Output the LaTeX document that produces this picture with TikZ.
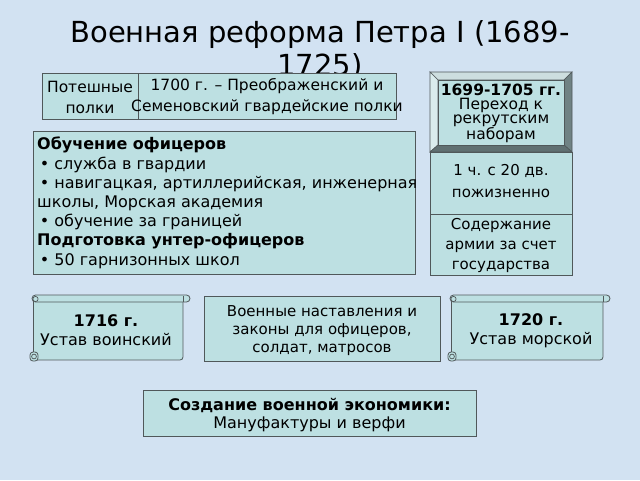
\documentclass[tikz,border=0pt]{standalone}
\usepackage{fontspec}
\setmainfont{DejaVu Sans}
\definecolor{bg}{RGB}{210,226,242}
\definecolor{boxfill}{RGB}{189,224,226}
\definecolor{boxline}{RGB}{80,88,90}
\definecolor{bevtop}{RGB}{205,222,223}
\definecolor{bevleft}{RGB}{218,236,237}
\definecolor{bevright}{RGB}{112,130,132}
\definecolor{bevbot}{RGB}{96,112,114}
\tikzset{
  panel/.style={draw=boxline, fill=boxfill, line width=0.8pt, inner sep=0pt, outer sep=0pt},
  txt/.style={align=center, inner sep=0pt, font=\fontsize{16}{19}\selectfont},
  scrl/.style={draw=boxline, fill=boxfill, line width=0.8pt},
}
\newcommand{\scrollshape}[4]{% x1 y1 x2 y2 (body), in pixel units
  % body
  \fill[boxfill] (#1,#2+4) rectangle (#3,#4);
  \draw[boxline, line width=0.8pt] (#1,#2+4) -- (#1,#4-4);
  \draw[boxline, line width=0.8pt, rounded corners=3pt] (#3,#2+6) -- (#3,#4) -- (#1+4,#4);
  % top roll
  \draw[scrl, rounded corners=3.5pt] (#1-1,#2) rectangle (#3+7,#2+7);
  \draw[boxline, line width=0.7pt] (#3,#2+1) -- (#3,#2+7);
  \draw[scrl, line width=0.7pt] (#1+2.5,#2+4) circle[radius=2.6];
  % bottom-left curl
  \draw[scrl, rounded corners=3pt] (#1-3,#4-8) rectangle (#1+5,#4+1);
  \draw[scrl, line width=0.7pt] (#1+1,#4-3.5) circle[radius=2.4];
}
\begin{document}
\begin{tikzpicture}[x=1pt,y=-1pt]
\fill[bg] (0,0) rectangle (640,480);
\useasboundingbox (0,0) rectangle (640,480);

% title
\node[align=center, inner sep=0pt, font=\fontsize{29}{33}\selectfont] (title) at (320,50)
  {Военная реформа Петра I (1689-\\1725)};

% top-left cells
\node[panel, minimum width=96pt, minimum height=46pt] (cellA) at (90,96) {};
\node[panel, minimum width=258pt, minimum height=46pt] (cellB) at (267,96) {};
\node[txt, font=\fontsize{15.5}{21}\selectfont] (tA) at (90,97) {Потешные\\полки};
\node[txt, font=\fontsize{15.5}{21}\selectfont] (tB) at (267,97) {1700 г. – Преображенский и\\Семеновский гвардейские полки};

% left big box
\node[panel, minimum width=382pt, minimum height=143pt] (edu) at (224,202.5) {};
\node[anchor=north west, align=left, inner sep=0pt, font=\fontsize{16}{19.2}\selectfont] (eduT) at (37,137)
  {\textbf{Обучение офицеров}\\
   \,• служба в гвардии\\
   \,• навигацкая, артиллерийская, инженерная\\
   школы, Морская академия\\
   \,• обучение за границей\\
   \textbf{Подготовка унтер-офицеров}\\
   \,• 50 гарнизонных школ};

% right column
\fill[bevtop,draw=boxline,line width=0.6pt] (430,72) -- (572,72) -- (564,80) -- (438,80) -- cycle;
\fill[bevleft,draw=boxline,line width=0.6pt] (430,72) -- (438,80) -- (438,145) -- (430,152) -- cycle;
\fill[bevright,draw=boxline,line width=0.6pt] (572,72) -- (572,152) -- (564,145) -- (564,80) -- cycle;
\fill[bevbot,draw=boxline,line width=0.6pt] (430,152) -- (438,145) -- (564,145) -- (572,152) -- cycle;
\node[panel, minimum width=126pt, minimum height=65pt] (recr) at (501,112.5) {};
\node[txt, font=\fontsize{15.5}{14}\selectfont] (recrT) at (501,113)
  {\textbf{1699-1705 гг.}\\Переход к\\рекрутским\\наборам};
\node[panel, minimum width=142pt, minimum height=62pt] (quota) at (501,183) {};
\node[txt, font=\fontsize{15}{22}\selectfont] (quotaT) at (501,181.5) {1 ч. с 20 дв.\\пожизненно};
\node[panel, minimum width=142pt, minimum height=61pt] (keep) at (501,244.5) {};
\node[txt, font=\fontsize{15}{20}\selectfont] (keepT) at (501,245.5) {Содержание\\армии за счет\\государства};

% scrolls
\scrollshape{33}{295}{183}{360}
\node[txt] (s1) at (106,330.5) {\textbf{1716 г.}\\Устав воинский};
\node[panel, minimum width=236pt, minimum height=65pt] (mid) at (322,328.5) {};
\node[txt, font=\fontsize{15}{18}\selectfont] (midT) at (322,331) {Военные наставления и\\законы для офицеров,\\солдат, матросов};
\scrollshape{451}{295}{603}{360}
\node[txt] (s2) at (531,330.5) {\textbf{1720 г.}\\Устав морской};

% bottom box
\node[panel, minimum width=333pt, minimum height=46pt] (econ) at (309.5,413) {};
\node[txt, font=\fontsize{16}{18}\selectfont] (econT) at (309.5,415) {\textbf{Создание военной экономики:}\\Мануфактуры и верфи};
\end{tikzpicture}
\end{document}
